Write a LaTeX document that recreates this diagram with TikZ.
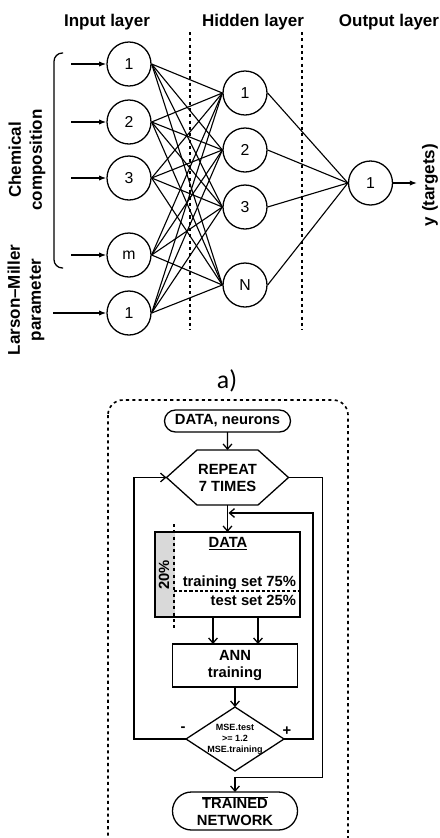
\documentclass[tikz,border=0pt]{standalone}
\usepackage{fontspec}
\setmainfont{Liberation Sans}
\newfontfamily\captionfont{Carlito}
\usetikzlibrary{arrows.meta,shapes.misc}

\begin{document}
\begin{tikzpicture}[x=0.03cm, y=-0.03cm,
    neuron/.style={circle, draw, line width=1.1pt, minimum size=1.32cm, inner sep=0pt,
      font=\fontsize{13.5}{15}\selectfont},
    synapse/.style={line width=0.95pt},
    feed/.style={-{Latex[length=2.2mm,width=1.6mm]}, line width=1.1pt},
    layertitle/.style={font=\bfseries\fontsize{14.5}{17}\selectfont},
    sidetitle/.style={rotate=90, align=center, inner sep=0pt,
      font=\bfseries\fontsize{14.5}{18}\selectfont},
    divider/.style={line width=1.4pt, dash pattern=on 2.6pt off 2.8pt},
    splitline/.style={line width=1.2pt, dash pattern=on 2.6pt off 1.8pt},
    flow/.style={-{Straight Barb[length=1.5mm,width=2.6mm]}, line width=1.1pt},
    boxtext/.style={align=center, inner sep=0pt, outer sep=0pt,
      font=\bfseries\fontsize{12.6}{14.5}\selectfont},
    stepbox/.style={boxtext, draw, line width=1.1pt},
    terminal/.style={stepbox, rounded rectangle},
    ]
    \useasboundingbox (0,0) rectangle (439,838);
    % Define sizes
    \def\cut{0.915cm}
    % Define colours
    \definecolor{stripgray}{RGB}{217,217,217}

    % 1. Network with input, hidden and output layers
    \begin{scope}
        \node[layertitle] (tin) at (107,22) {Input layer};
        \node[layertitle] (thid) at (253,22) {Hidden layer};
        \node[layertitle] (tout) at (389,22) {Output layer};
        \draw[divider] (190,32) -- (190,330);
        \draw[divider] (302,32) -- (302,330);

        \foreach \i/\y/\t in {1/64/1, 2/122/2, 3/178/3, 4/255/m, 5/313/1} {
            \node[neuron] (in\i) at (129,\y) {\t};
        }
        \foreach \j/\y/\t in {1/93/1, 2/150/2, 3/207/3, 4/285/N} {
            \node[neuron] (hid\j) at (245,\y) {\t};
        }
        \node[neuron] (out) at (370.5,183) {1};

        \foreach \i in {1,...,5} {
            \foreach \j in {1,...,4} {
                \draw[synapse] (in\i.east) -- (hid\j.west);
            }
        }
        \foreach \j in {1,...,4} {
            \draw[synapse] (hid\j.east) -- (out.west);
        }

        \foreach \i in {1,...,4} {
            \draw[feed] (in\i.west) ++(-35,0) -- (in\i.west);
        }
        \draw[feed] (in5.west) ++(-53,0) -- (in5.west);
        \draw[feed] (out.east) -- ++(24,0);

        \draw[line width=1.1pt, rounded corners=0.25cm] (63,53) -- (54,53) -- (54,268) -- (63,268);
        \node[sidetitle] (chem) at (27,160) {Chemical\\composition};
        \node[sidetitle] (lmp) at (26,300) {Larson–Miller\\parameter};
        \node[sidetitle] (target) at (430,185) {y (targets)};
    \end{scope}

    \node[font=\captionfont\fontsize{22}{26}\selectfont] (cap) at (227,381) {a)};

    % 2. Training loop
    \begin{scope}
        \draw[divider, rounded corners=0.45cm] (108,400) rectangle (348,852);
        \node[terminal, minimum width=3.78cm, minimum height=0.66cm] (start) at (227.5,421) {DATA, neurons};

        \node[boxtext, minimum width=3.66cm, minimum height=1.65cm] (rep) at (227.5,477.5) {REPEAT\\7 TIMES};
        \draw[line width=1.1pt] (rep.west) -- ([xshift=\cut]rep.north west) -- ([xshift=-\cut]rep.north east)
            -- (rep.east) -- ([xshift=-\cut]rep.south east) -- ([xshift=\cut]rep.south west) -- cycle;

        \node[stepbox, minimum width=4.35cm, minimum height=2.55cm,
            path picture={\fill[stripgray] (path picture bounding box.north west)
                rectangle ([xshift=0.6cm]path picture bounding box.south west);}] (databox) at (227.5,574.5) {};
        \node[boxtext, rotate=90] (share) at (164,575) {20\%};
        \node[boxtext] (dtitle) at (228,544) {\underline{DATA}};
        \node[boxtext, anchor=east] (trainset) at (296,583) {training set 75\%};
        \node[boxtext, anchor=east] (testset) at (296,600) {test set 25\%};
        \draw[divider] (174,524) -- (174,629);
        \draw[splitline] (174,591) -- (299,591);

        \node[stepbox, minimum width=3.75cm, minimum height=1.29cm] (ann) at (235,665.5) {ANN\\training};
        \node[boxtext, minimum width=2.94cm, minimum height=1.92cm,
            font=\bfseries\fontsize{7.7}{9.4}\selectfont] (check) at (235,739) {MSE.test\\>= 1.2\\MSE.training};
        \draw[line width=1.1pt] (check.west) -- (check.north) -- (check.east) -- (check.south) -- cycle;
        \node[boxtext] (minus) at (183,729) {-};
        \node[boxtext] (plus) at (287,731) {+};
        \node[terminal, minimum width=3.75cm, minimum height=1.14cm] (final) at (235,811)
            {$\overline{\mbox{TRAINED}}$\\NETWORK};

        \coordinate (rejoin) at (228.5,513);
        \draw[flow] (start) -- (rep);
        \draw[flow] (rep) -- (databox);
        \foreach \dx in {-22,23} {
            \draw[flow] ([xshift=\dx*0.03cm]ann.north |- databox.south) -- ([xshift=\dx*0.03cm]ann.north);
        }
        \draw[flow] (ann) -- (check);
        \draw[flow] (check.west) -- ++(-52,0) |- (rep.west);
        \draw[flow] (check.east) -- ++(29,0) |- (rejoin);
        \draw[flow] (rep.east) -| ++(34,300) -| (final.north);
    \end{scope}
\end{tikzpicture}
\end{document}
